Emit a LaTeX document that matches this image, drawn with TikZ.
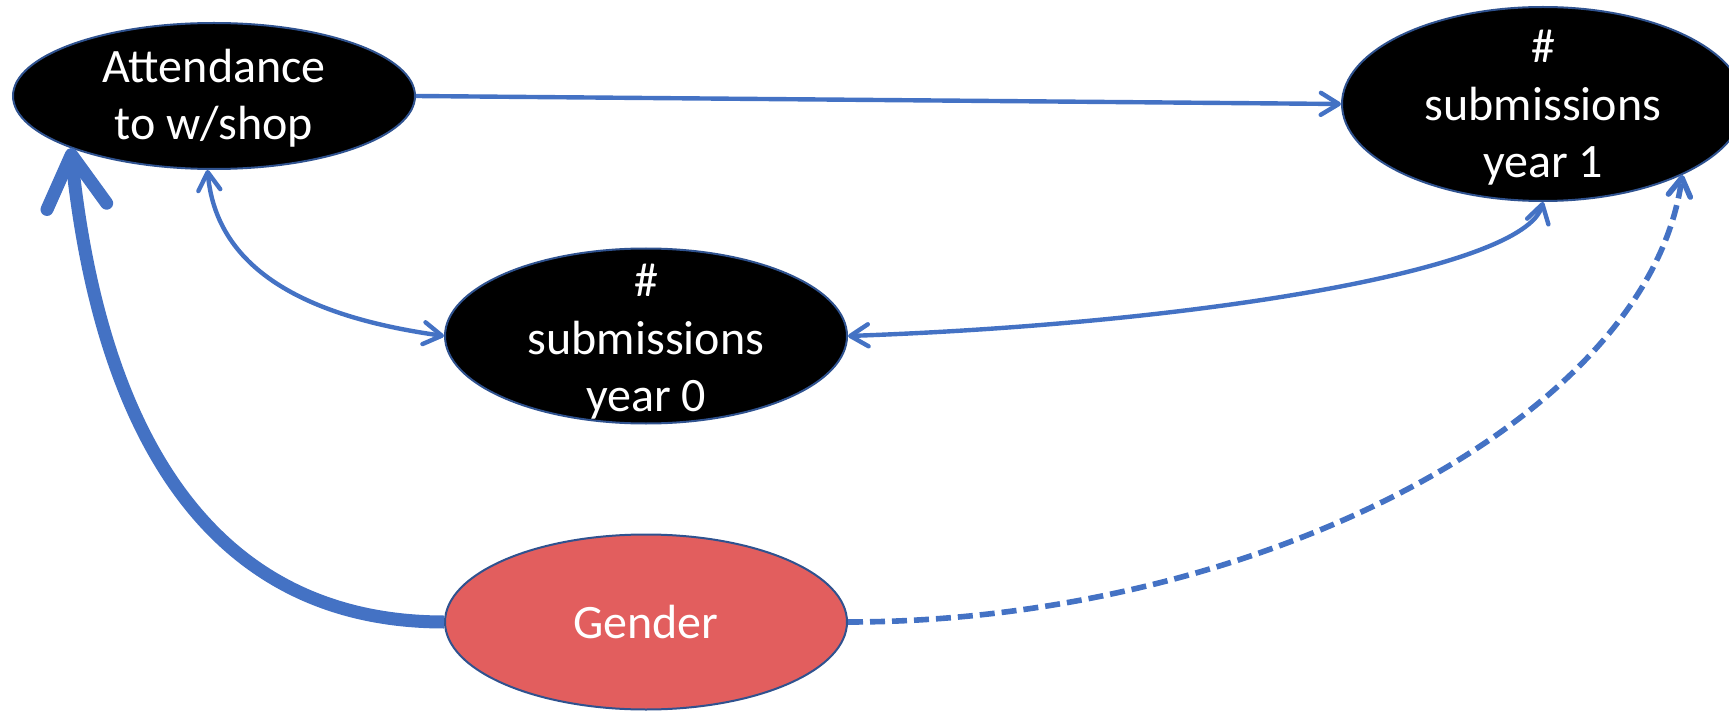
\documentclass[tikz,border=0pt]{standalone}
\usepackage{fontspec}
\setmainfont{Carlito}
\usetikzlibrary{shapes.geometric,arrows.meta}
\definecolor{linkblue}{RGB}{68,114,196}
\definecolor{rimblue}{RGB}{47,82,143}
\definecolor{gendred}{RGB}{226,94,94}
\begin{document}
\begin{tikzpicture}[x=0.5pt,y=0.5pt,
  oval/.style={ellipse, draw=rimblue, line width=1pt, inner sep=0pt, minimum width=201pt},
  ovaltext/.style={text=white, align=center, inner sep=0pt, font=\fontsize{24}{28.7}\selectfont},
  link/.style={draw=linkblue, line width=2.2pt},
  thintip/.style={-{Straight Barb[length=9pt,width=11pt,round]}},
  twotip/.style={{Straight Barb[length=9pt,width=11pt,round]}-{Straight Barb[length=9pt,width=11pt,round]}}]
\useasboundingbox (0,0) rectangle (1729,-711);
% nodes
\node[oval, fill=black, minimum height=73pt] (att) at (214,-96) {};
\node[ovaltext] (atttext) at ([yshift=-1pt]att.center) {Attendance\\to w/shop};
\node[oval, fill=black, minimum height=97pt] (y1) at (1543,-104) {};
\node[ovaltext] (y1text) at ([yshift=-2pt]y1.center) {\#\\submissions\\year 1};
\node[oval, fill=black, minimum height=87.5pt] (y0) at (646,-336) {};
\node[ovaltext] (y0text) at ([yshift=-3pt]y0.center) {\#\\submissions\\year 0};
\node[oval, fill=gendred, minimum height=87.5pt] (gen) at (646,-622) {};
\node[ovaltext] (gentext) at (gen.center) {Gender};
% connectors
\draw[link, thintip] (att.east) -- (y1.west);
\draw[link, twotip] (att.265) .. controls +(-85:110) and +(172:120) .. (y0.west);
\draw[link, twotip] (y0.east) .. controls +(2:350) and +(255:70) .. (y1.south);
\draw[link, line width=6.5pt, -{Straight Barb[length=26pt,width=30pt,round]}]
  (gen.west) .. controls +(180:250) and +(-84:260) .. (att.200);
\draw[link, line width=2.8pt, dash pattern=on 7.5pt off 3.5pt, thintip]
  (gen.east) .. controls +(0:400) and +(262:250) .. (y1.-27);
\end{tikzpicture}
\end{document}
